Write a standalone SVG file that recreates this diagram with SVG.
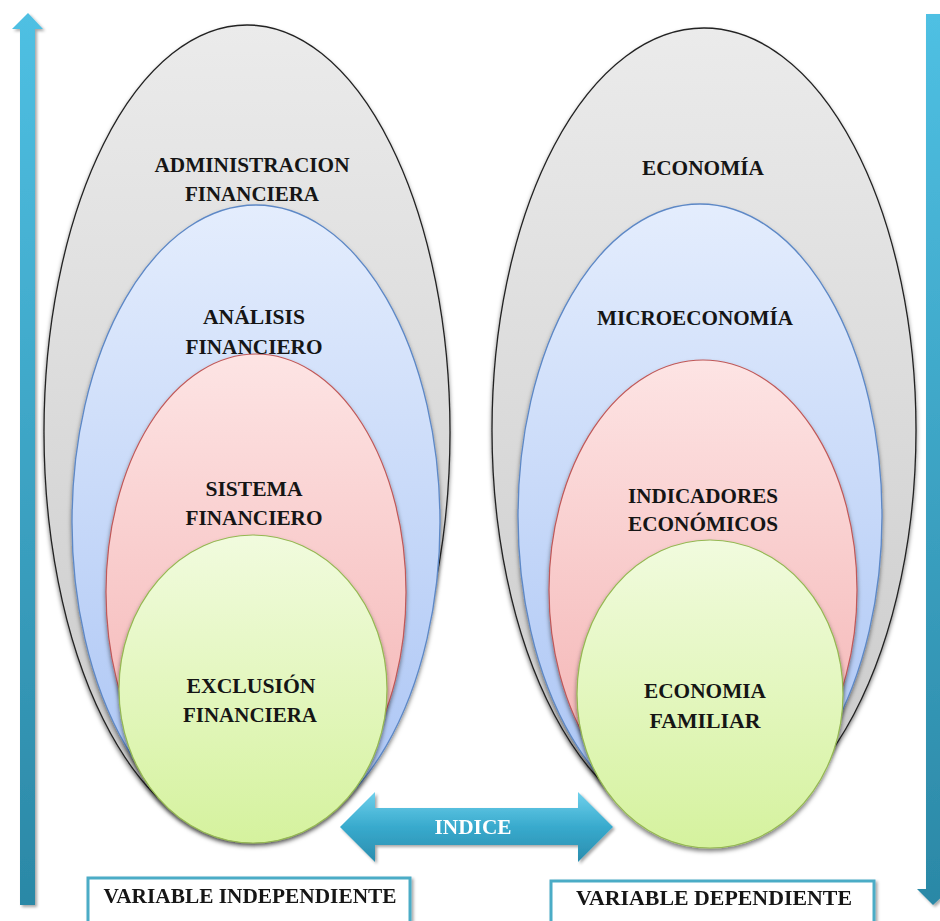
<svg xmlns="http://www.w3.org/2000/svg" width="940" height="921" viewBox="0 0 940 921">
<defs>
<linearGradient id="gGray" x1="0" y1="0" x2="0" y2="1"><stop offset="0" stop-color="#ebebeb"/><stop offset="1" stop-color="#c9c9c9"/></linearGradient>
<linearGradient id="gBlue" x1="0" y1="0" x2="0" y2="1"><stop offset="0" stop-color="#e4edfd"/><stop offset="1" stop-color="#a8c3f4"/></linearGradient>
<linearGradient id="gRed" x1="0" y1="0" x2="0" y2="1"><stop offset="0" stop-color="#fde4e4"/><stop offset="1" stop-color="#f3aeae"/></linearGradient>
<linearGradient id="gGreen" x1="0" y1="0" x2="0" y2="1"><stop offset="0" stop-color="#f1fbde"/><stop offset="1" stop-color="#d5f29e"/></linearGradient>
<linearGradient id="gArrV" x1="0" y1="0" x2="0" y2="1"><stop offset="0" stop-color="#4fc0e3"/><stop offset="1" stop-color="#2b88a6"/></linearGradient>
<linearGradient id="gArrH" x1="0" y1="0" x2="0" y2="1"><stop offset="0" stop-color="#6fd0ec"/><stop offset="0.5" stop-color="#38aacd"/><stop offset="1" stop-color="#2a8dae"/></linearGradient>
<filter id="sh" x="-10%" y="-10%" width="120%" height="125%"><feDropShadow dx="0" dy="3" stdDeviation="2" flood-color="#000" flood-opacity="0.5"/></filter>
<filter id="shs" x="-20%" y="-5%" width="140%" height="115%"><feDropShadow dx="2" dy="2" stdDeviation="1.5" flood-color="#000" flood-opacity="0.35"/></filter>
</defs>
<style>
.gray{fill:url(#gGray);stroke:#222;stroke-width:1.3}
.blue{fill:url(#gBlue);stroke:#5d88c6;stroke-width:1.3}
.red{fill:url(#gRed);stroke:#c05858;stroke-width:1.2}
.green{fill:url(#gGreen);stroke:#95b852;stroke-width:1.2}
.lbl{font-family:"Liberation Serif","Times New Roman",serif;font-weight:bold;font-size:20px;fill:#151515;text-anchor:middle}
.box{fill:#fff;stroke:#4bacc6;stroke-width:3}
.arr{fill:url(#gArrV)}
</style>

<g id="arrow-left" filter="url(#shs)"><path class="arr" d="M28,13 L43,29 L35,29 L35,905 L20,905 L20,29 L12,29 Z"/></g>
<g id="arrow-right" filter="url(#shs)"><path class="arr" d="M926,14 L942,14 L942,889 L950,889 L933,905 L917,889 L926,889 Z"/></g>

<g id="left-stack">
<g id="admin-fin" filter="url(#sh)"><ellipse class="gray" cx="247" cy="432" rx="203" ry="407"/></g>
<g id="analisis-fin" filter="url(#sh)"><ellipse class="blue" cx="256" cy="522" rx="184" ry="317"/></g>
<g id="sistema-fin" filter="url(#sh)"><ellipse class="red" cx="256" cy="592" rx="150" ry="238"/></g>
<g id="exclusion-fin" filter="url(#sh)"><ellipse class="green" cx="253" cy="689" rx="134" ry="154"/></g>
<text class="lbl" x="252" y="172" textLength="195" lengthAdjust="spacingAndGlyphs">ADMINISTRACION</text>
<text class="lbl" x="252" y="201" textLength="134" lengthAdjust="spacingAndGlyphs">FINANCIERA</text>
<text class="lbl" x="254" y="324" textLength="102" lengthAdjust="spacingAndGlyphs">ANÁLISIS</text>
<text class="lbl" x="254" y="354" textLength="137" lengthAdjust="spacingAndGlyphs">FINANCIERO</text>
<text class="lbl" x="254" y="496" textLength="97" lengthAdjust="spacingAndGlyphs">SISTEMA</text>
<text class="lbl" x="254" y="525" textLength="137" lengthAdjust="spacingAndGlyphs">FINANCIERO</text>
<text class="lbl" x="251" y="693" textLength="129" lengthAdjust="spacingAndGlyphs">EXCLUSIÓN</text>
<text class="lbl" x="250" y="722" textLength="134" lengthAdjust="spacingAndGlyphs">FINANCIERA</text>
</g>

<g id="right-stack">
<g id="economia" filter="url(#sh)"><ellipse class="gray" cx="704" cy="430" rx="212" ry="402"/></g>
<g id="microeconomia" filter="url(#sh)"><ellipse class="blue" cx="700" cy="516" rx="182" ry="312"/></g>
<g id="indicadores" filter="url(#sh)"><ellipse class="red" cx="703" cy="590" rx="154" ry="230"/></g>
<g id="economia-familiar" filter="url(#sh)"><ellipse class="green" cx="710" cy="694" rx="133" ry="154"/></g>
<text class="lbl" x="703" y="175" textLength="122" lengthAdjust="spacingAndGlyphs">ECONOMÍA</text>
<text class="lbl" x="695" y="325" textLength="196" lengthAdjust="spacingAndGlyphs">MICROECONOMÍA</text>
<text class="lbl" x="703" y="503" textLength="150" lengthAdjust="spacingAndGlyphs">INDICADORES</text>
<text class="lbl" x="703" y="531" textLength="150" lengthAdjust="spacingAndGlyphs">ECONÓMICOS</text>
<text class="lbl" x="705" y="698" textLength="122" lengthAdjust="spacingAndGlyphs">ECONOMIA</text>
<text class="lbl" x="705" y="728" textLength="111" lengthAdjust="spacingAndGlyphs">FAMILIAR</text>
</g>

<g id="connectors">
<g id="indice" filter="url(#shs)">
<path fill="url(#gArrH)" d="M340,827 L375,792 L375,808 L578,808 L578,792 L613,827 L578,862 L578,845 L375,845 L375,862 Z"/>
<text x="473" y="834" font-family="Liberation Serif, serif" font-weight="bold" font-size="20" fill="#fff" text-anchor="middle" textLength="77" lengthAdjust="spacingAndGlyphs">INDICE</text>
</g>
</g>

<g id="var-independiente" filter="url(#shs)">
<rect class="box" x="88" y="878" width="322" height="60"/>
<text class="lbl" x="250" y="903" textLength="293" lengthAdjust="spacingAndGlyphs">VARIABLE INDEPENDIENTE</text>
</g>
<g id="var-dependiente" filter="url(#shs)">
<rect class="box" x="551" y="881" width="323" height="60"/>
<text class="lbl" x="714" y="905" textLength="276" lengthAdjust="spacingAndGlyphs">VARIABLE DEPENDIENTE</text>
</g>
</svg>
